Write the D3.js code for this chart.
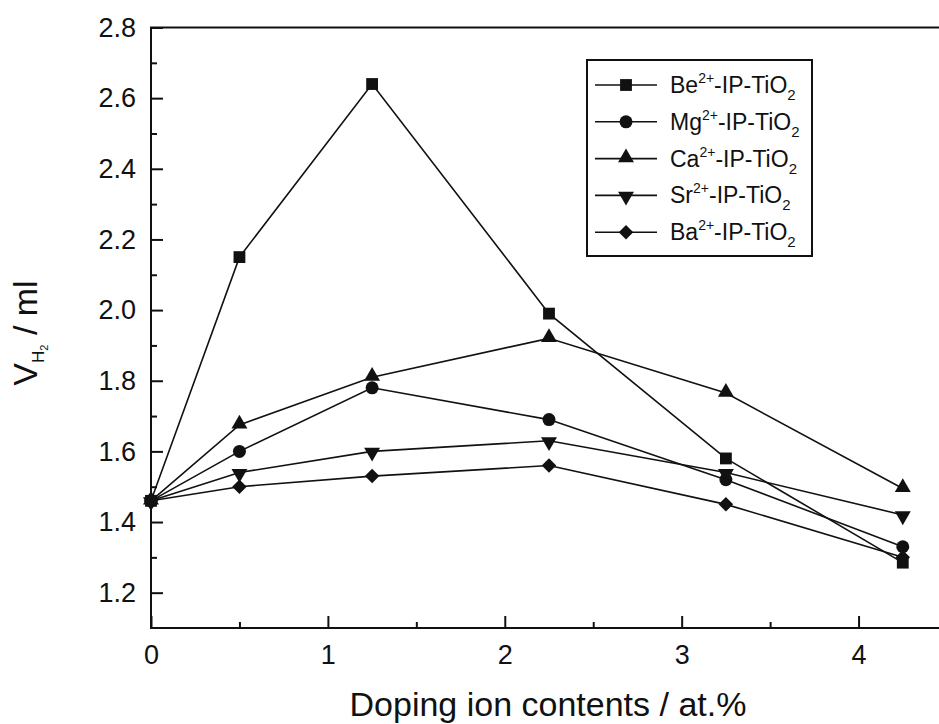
<!DOCTYPE html>
<meta charset="utf-8">
<style>
  body { margin: 0; background: white; }
  text { font-family: 'Liberation Sans', Arial, sans-serif; fill: #111; }
</style>
<div id="chart"></div>
<script src="https://d3js.org/d3.v7.min.js"></script>
<script>

// doping contents (at.%) and H2 volumes (ml)
var contents = [0, 0.5, 1.25, 2.25, 3.25, 4.25];
var beVals = [1.46, 2.15, 2.64, 1.99, 1.58, 1.285];
var mgVals = [1.46, 1.60, 1.78, 1.69, 1.52, 1.33];
var caVals = [1.46, 1.675, 1.81, 1.92, 1.765, 1.495];
var srVals = [1.46, 1.54, 1.60, 1.63, 1.54, 1.42];
var baVals = [1.46, 1.50, 1.53, 1.56, 1.45, 1.30];
var ions = ["Be", "Mg", "Ca", "Sr", "Ba"];
var yTicks = [1.2, 1.4, 1.6, 1.8, 2.0, 2.2, 2.4, 2.6, 2.8];
var xTicks = [0, 1, 2, 3, 4];

var width = 939, height = 724;
// plot box (right edge runs off the picture like in the scan)
var pLeft = 151, pRight = 947, pTop = 27.5, pBottom = 628;

var svg = d3.select("#chart").append("svg")
  .attr("width", width)
  .attr("height", height);

var x = d3.scaleLinear().domain([0, 4.5]).range([pLeft, pRight]);
var y = d3.scaleLinear().domain([1.1, 2.8]).range([pBottom, pTop]);

// series table built from the arrays above
var series = [beVals, mgVals, caVals, srVals, baVals].map(function(vals, i) {
  return { name: ions[i], points: vals.map(function(v, j) { return [contents[j], v]; }) };
});

// marker shapes: square, circle, triangle, down triangle, diamond
function marker(sel, k) {
  if (k == 0) sel.append("path").attr("d", d3.symbol(d3.symbolSquare, 140)());
  if (k == 1) sel.append("circle").attr("r", 6.5);
  if (k == 2) sel.append("path").attr("d", d3.symbol(d3.symbolTriangle, 110)()).attr("transform", "translate(0,-1)");
  if (k == 3) sel.append("path").attr("d", d3.symbol(d3.symbolTriangle, 110)()).attr("transform", "translate(0,1) rotate(180)");
  if (k == 4) sel.append("path").attr("d", d3.symbol(d3.symbolSquare, 105)()).attr("transform", "rotate(45)");
  sel.selectAll("path, circle").style("fill", "#111");
}

// axes (ticks pointing inward)
var yAxis = d3.axisLeft(y).tickValues(yTicks).tickFormat(d3.format(".1f"))
  .tickSizeInner(-12).tickSizeOuter(0).tickPadding(15);
var yMinor = d3.axisLeft(y).tickValues(d3.range(1.3, 2.75, 0.2)).tickFormat("")
  .tickSizeInner(-6).tickSizeOuter(0);
var xAxis = d3.axisBottom(x).tickValues(xTicks).tickFormat(d3.format("d"))
  .tickSizeInner(-12).tickSizeOuter(0).tickPadding(17);
var xMinor = d3.axisBottom(x).tickValues([0.5, 1.5, 2.5, 3.5]).tickFormat("")
  .tickSizeInner(-6).tickSizeOuter(0);

function styleAxis(g) {
  g.select(".domain").remove();
  g.selectAll("line").attr("stroke", "#111").attr("stroke-width", 2);
  g.selectAll("text").style("font-size", "27px").attr("fill", "#111");
}

svg.append("g").attr("transform", "translate(" + pLeft + ",0)").call(yAxis).call(styleAxis);
svg.append("g").attr("transform", "translate(" + pLeft + ",0)").call(yMinor).call(styleAxis);
svg.append("g").attr("transform", "translate(0," + pBottom + ")").call(xAxis).call(styleAxis);
svg.append("g").attr("transform", "translate(0," + pBottom + ")").call(xMinor).call(styleAxis);

// frame
svg.append("rect")
  .attr("x", pLeft).attr("y", pTop)
  .attr("width", pRight - pLeft).attr("height", pBottom - pTop)
  .attr("fill", "none").attr("stroke", "#111").attr("stroke-width", 2);

// lines
var line = d3.line().x(function(d) { return x(d[0]); }).y(function(d) { return y(d[1]); });

svg.selectAll(".series").data(series).enter().append("path")
  .attr("class", "series")
  .attr("d", function(d) { return line(d.points); })
  .attr("fill", "none").attr("stroke", "#111").attr("stroke-width", 1.6);

series.forEach(function(s, k) {
  svg.selectAll(".m" + k).data(s.points).enter().append("g")
    .attr("class", "m" + k)
    .attr("transform", function(d) { return "translate(" + x(d[0]) + "," + y(d[1]) + ")"; })
    .each(function() { marker(d3.select(this), k); });
});

// axis titles
svg.append("text")
  .attr("x", (pLeft + 939) / 2 + 3).attr("y", 716)
  .attr("text-anchor", "middle")
  .style("font-size", "34px")
  .text("Doping ion contents / at.%");

var yt = svg.append("text")
  .attr("transform", "translate(37,333) rotate(-90)")
  .attr("text-anchor", "middle")
  .style("font-size", "34px");
yt.append("tspan").text("V");
yt.append("tspan").attr("dy", 7).style("font-size", "17px").text("H");
yt.append("tspan").attr("dy", 4).style("font-size", "11px").text("2");
yt.append("tspan").attr("dy", -11).text(" / ml");

// legend
var legend = svg.append("g");
legend.append("rect")
  .attr("x", 587).attr("y", 60).attr("width", 225).attr("height", 196)
  .attr("fill", "white").attr("stroke", "#111").attr("stroke-width", 2);

series.forEach(function(s, k) {
  var ly = 85 + k * 36.8;
  var row = legend.append("g").attr("transform", "translate(0," + ly + ")");
  row.append("line").attr("x1", 595).attr("x2", 657).attr("y1", 0).attr("y2", 0)
    .attr("stroke", "#111").attr("stroke-width", 1.6);
  var m = row.append("g").attr("transform", "translate(626,0)");
  marker(m, k);
  var t = row.append("text").attr("x", 670).attr("y", 8).style("font-size", "23px");
  t.append("tspan").text(s.name);
  t.append("tspan").attr("dy", -10).style("font-size", "14px").text("2+");
  t.append("tspan").attr("dy", 10).text("-IP-TiO");
  t.append("tspan").attr("dy", 7).style("font-size", "15px").text("2");
});

</script>
